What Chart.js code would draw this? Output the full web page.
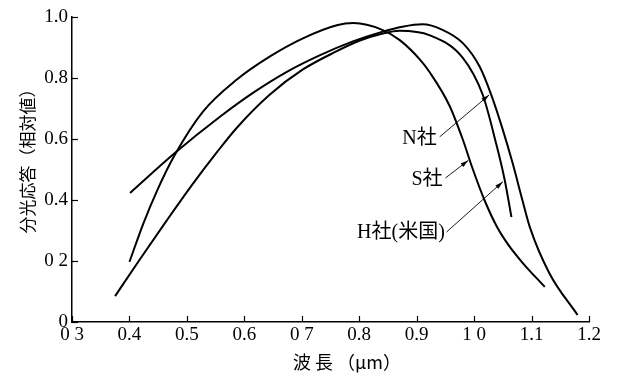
<!DOCTYPE html>
<html>
<head>
<meta charset="utf-8">
<script src="https://cdn.jsdelivr.net/npm/chart.js@4.4.0/dist/chart.umd.min.js"></script>
<style>
html, body { margin: 0; padding: 0; background: #fff; }
#wrap { width: 617px; height: 376px; }
</style>
</head>
<body>
<div id="wrap"><canvas id="chart" width="617" height="376"></canvas></div>
<script>
// Spectral response curves (wavelength in µm)
const nWave = [0.401, 0.479, 0.557, 0.615, 0.674, 0.731, 0.789, 0.841, 0.875, 0.91, 0.945, 0.98, 1.01, 1.03, 1.05, 1.067, 1.084, 1.097, 1.131, 1.18];
const nResp = [0.423, 0.554, 0.672, 0.751, 0.82, 0.874, 0.92, 0.952, 0.968, 0.976, 0.958, 0.915, 0.836, 0.744, 0.63, 0.521, 0.40, 0.311, 0.16, 0.023];

const sWave = [0.40, 0.424, 0.448, 0.479, 0.528, 0.587, 0.644, 0.702, 0.761, 0.79, 0.84, 0.87, 0.905, 0.923, 0.957, 0.98, 0.997, 1.018, 1.039, 1.06, 1.084, 1.123];
const sResp = [0.197, 0.322, 0.43, 0.548, 0.69, 0.795, 0.87, 0.93, 0.973, 0.98, 0.958, 0.925, 0.862, 0.818, 0.71, 0.60, 0.505, 0.40, 0.315, 0.252, 0.195, 0.115];

const hWave = [0.375, 0.418, 0.465, 0.51, 0.552, 0.587, 0.644, 0.702, 0.761, 0.80, 0.841, 0.87, 0.923, 0.98, 1.015, 1.039, 1.053, 1.065];
const hResp = [0.085, 0.205, 0.333, 0.452, 0.556, 0.637, 0.745, 0.828, 0.888, 0.922, 0.946, 0.955, 0.94, 0.867, 0.745, 0.58, 0.468, 0.344];

const xTicks = [0.3, 0.4, 0.5, 0.6, 0.7, 0.8, 0.9, 1.0, 1.1, 1.2];
const xTickLabels = ['0 3', '0.4', '0.5', '0.6', '0 7', '0.8', '0.9', '1 0', '1.1', '1.2'];
const yTicks = [0, 0.2, 0.4, 0.6, 0.8, 1.0];
const yTickLabels = ['0', '0 2', '0.4', '0.6', '0.8', '1.0'];

const xTitle = '波 長 （μm）';
const yTitle = '分光応答（相対値）';

// callout labels: text end point and arrow tip, in data units
const callouts = [
    { text: 'N社', at: [0.935, 0.60], tail: [0.94, 0.607], tip: [1.026, 0.744] },
    { text: 'S社', at: [0.945, 0.468], tail: [0.95, 0.472], tip: [0.99, 0.53] },
    { text: 'H社(米国)', at: [0.949, 0.294], tail: [0.952, 0.295], tip: [1.05, 0.46] }
];

const serif = "'Liberation Serif', 'Times New Roman', 'Noto Sans CJK JP', serif";
const cjk = "'Noto Sans CJK JP', 'Noto Sans CJK SC', sans-serif";

function toPoints(xs, ys) {
    return xs.map((x, i) => ({ x: x, y: ys[i] }));
}

function curve(label, xs, ys) {
    return {
        label: label,
        data: toPoints(xs, ys),
        borderColor: '#000',
        borderWidth: 2,
        pointRadius: 0,
        fill: false,
        cubicInterpolationMode: 'monotone'
    };
}

const decorPlugin = {
    id: 'decor',
    afterDraw(chart) {
        const { ctx, chartArea: a, scales: { x, y } } = chart;
        ctx.save();
        ctx.strokeStyle = '#000';
        ctx.fillStyle = '#000';

        // inward tick marks
        ctx.lineWidth = 1.2;
        xTicks.forEach(v => {
            const px = Math.round(x.getPixelForValue(v)) + 0.5;
            ctx.beginPath();
            ctx.moveTo(px, a.bottom);
            ctx.lineTo(px, a.bottom - 6);
            ctx.stroke();
        });
        yTicks.forEach(v => {
            const py = Math.round(y.getPixelForValue(v)) + 0.5;
            ctx.beginPath();
            ctx.moveTo(a.left, py);
            ctx.lineTo(a.left + 6, py);
            ctx.stroke();
        });

        // axis titles
        ctx.font = '18px ' + cjk;
        ctx.textAlign = 'center';
        ctx.textBaseline = 'middle';
        ctx.fillText(xTitle, 347, 362);

        ctx.save();
        ctx.translate(28, 157);
        ctx.rotate(-Math.PI / 2);
        ctx.font = '17px ' + cjk;
        ctx.fillText(yTitle, 0, 0);
        ctx.restore();

        // callouts with arrows
        ctx.font = '20px ' + serif;
        ctx.textAlign = 'right';
        ctx.textBaseline = 'middle';
        callouts.forEach(c => {
            ctx.fillText(c.text, x.getPixelForValue(c.at[0]), y.getPixelForValue(c.at[1]));
            const x0 = x.getPixelForValue(c.tail[0]), y0 = y.getPixelForValue(c.tail[1]);
            const x1 = x.getPixelForValue(c.tip[0]), y1 = y.getPixelForValue(c.tip[1]);
            ctx.lineWidth = 0.9;
            ctx.beginPath();
            ctx.moveTo(x0, y0);
            ctx.lineTo(x1, y1);
            ctx.stroke();
            const ang = Math.atan2(y1 - y0, x1 - x0);
            const len = 8, half = 2.2;
            ctx.beginPath();
            ctx.moveTo(x1, y1);
            ctx.lineTo(x1 - len * Math.cos(ang) + half * Math.sin(ang), y1 - len * Math.sin(ang) - half * Math.cos(ang));
            ctx.lineTo(x1 - len * Math.cos(ang) - half * Math.sin(ang), y1 - len * Math.sin(ang) + half * Math.cos(ang));
            ctx.closePath();
            ctx.fill();
        });
        ctx.restore();
    }
};

new Chart(document.getElementById('chart'), {
    type: 'line',
    data: {
        datasets: [
            curve('N社', nWave, nResp),
            curve('S社', sWave, sResp),
            curve('H社(米国)', hWave, hResp)
        ]
    },
    options: {
        responsive: false,
        animation: false,
        devicePixelRatio: 1,
        layout: { padding: { left: 0, top: 17, right: 28, bottom: 0 } },
        plugins: { legend: { display: false }, tooltip: { enabled: false } },
        scales: {
            x: {
                type: 'linear',
                min: 0.3,
                max: 1.2,
                afterBuildTicks: s => { s.ticks = xTicks.map(v => ({ value: v })); },
                afterFit: s => { s.height = 54; },
                grid: { display: false, drawTicks: false },
                border: { display: true, color: '#000', width: 1.5 },
                ticks: {
                    color: '#000',
                    padding: 2,
                    maxRotation: 0,
                    autoSkip: false,
                    font: { family: serif, size: 19 },
                    callback: v => xTickLabels[xTicks.findIndex(t => Math.abs(t - v) < 1e-6)]
                }
            },
            y: {
                min: 0,
                max: 1,
                afterBuildTicks: s => { s.ticks = yTicks.map(v => ({ value: v })); },
                afterFit: s => { s.width = 72; },
                grid: { display: false, drawTicks: false },
                border: { display: true, color: '#000', width: 1.5 },
                ticks: {
                    color: '#000',
                    padding: 4,
                    autoSkip: false,
                    font: { family: serif, size: 19 },
                    callback: v => yTickLabels[yTicks.findIndex(t => Math.abs(t - v) < 1e-6)]
                }
            }
        }
    },
    plugins: [decorPlugin]
});
</script>
</body>
</html>
